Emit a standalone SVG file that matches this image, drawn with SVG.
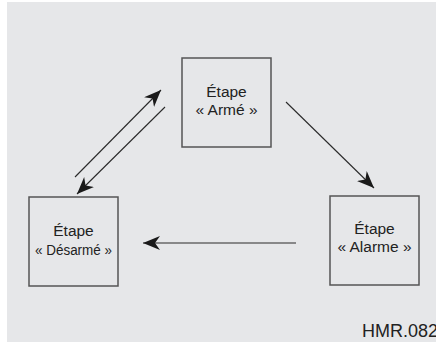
<svg xmlns="http://www.w3.org/2000/svg" width="436" height="342" viewBox="0 0 436 342">
<defs>
<style>
.bg{fill:#e6e7e9}
.box{fill:#e6e7e9;stroke:#555;stroke-width:1.5}
.t{font-family:"Liberation Sans",Arial,sans-serif;font-size:15.5px;fill:#222;text-anchor:middle}
.conn{stroke:#2a2a2a;stroke-width:1.1;fill:none;marker-end:url(#ah)}
</style>
<marker id="ah" markerUnits="userSpaceOnUse" markerWidth="20" markerHeight="16" refX="17" refY="7" orient="auto">
<path d="M0,0 L17,7 L0,14 L5,7 Z" fill="#1a1a1a"/>
</marker>
</defs>
<rect x="0" y="0" width="436" height="342" fill="#ffffff"/>
<rect class="bg" x="7" y="2" width="429" height="340"/>
<g id="connectors">
<line class="conn" x1="75" y1="177" x2="161" y2="90"/>
<line class="conn" x1="165" y1="107" x2="77" y2="194"/>
<line class="conn" x1="286" y1="102" x2="374" y2="188"/>
<line class="conn" x1="296" y1="243" x2="143" y2="243"/>
</g>
<g id="arme">
<rect class="box" x="182" y="58" width="89" height="89"/>
<text class="t" x="226.5" y="96.5">Étape</text>
<text class="t" x="226.5" y="115">« Armé »</text>
</g>
<g id="desarme">
<rect class="box" x="29" y="197" width="89" height="89"/>
<text class="t" x="73.5" y="235.5">Étape</text>
<text class="t" x="73.5" y="255" textLength="77" lengthAdjust="spacingAndGlyphs">« Désarmé »</text>
</g>
<g id="alarme">
<rect class="box" x="330" y="196" width="89" height="89"/>
<text class="t" x="374.5" y="233.5">Étape</text>
<text class="t" x="374.5" y="252">« Alarme »</text>
</g>
<text x="362" y="337" style="font-family:'Liberation Sans',Arial,sans-serif;font-size:18px;fill:#222">HMR.082</text>
</svg>
